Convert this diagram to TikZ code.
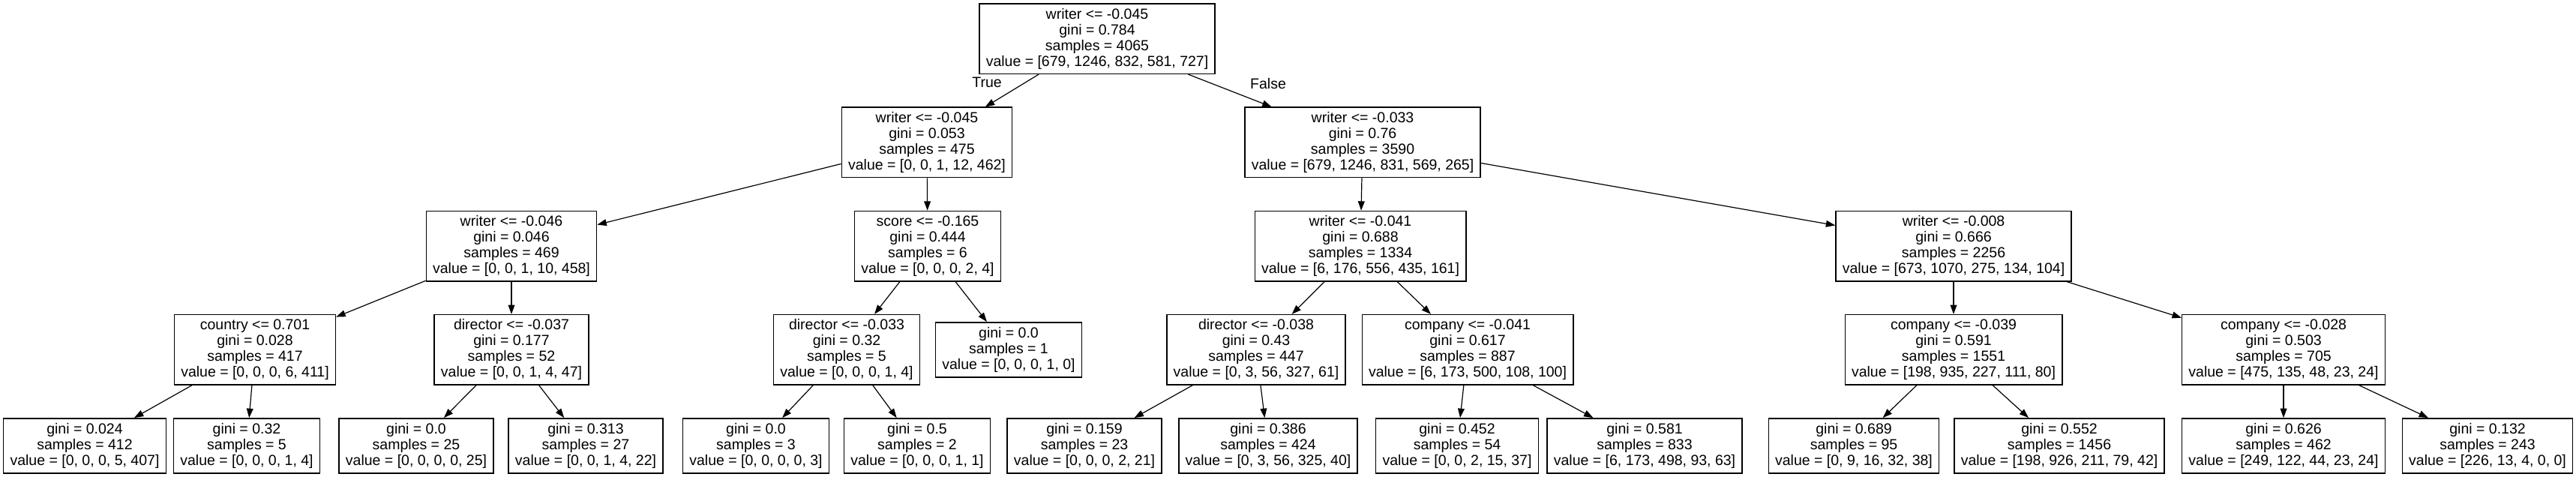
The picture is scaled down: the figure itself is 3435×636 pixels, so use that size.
\documentclass[tikz,border=0pt]{standalone}
\usepackage{fontspec}
\setmainfont{Liberation Sans}
\usetikzlibrary{arrows.meta}

\begin{document}
\begin{tikzpicture}[
  x=0.5pt,y=-0.5pt,line width=0.6pt,
  splitbox/.style={draw,line width=0.7pt,align=center,inner xsep=4.4pt,inner ysep=0pt,
    minimum height=46.7pt,font=\fontsize{9.75pt}{10.45pt}\selectfont},
  leafbox/.style={splitbox,minimum height=36.5pt},
  branch/.style={font=\fontsize{9.75pt}{10.45pt}\selectfont,inner sep=0pt},
  >={Triangle[length=6.2pt,width=4.4pt]}]
\useasboundingbox (0,0) rectangle (3435,636);
% depth 0 and 1
\node[splitbox] (root) at (1463,51.7) {writer <= -0.045\\gini = 0.784\\samples = 4065\\value = [679, 1246, 832, 581, 727]};
\node[splitbox] (wrA) at (1236,189.9) {writer <= -0.045\\gini = 0.053\\samples = 475\\value = [0, 0, 1, 12, 462]};
\node[splitbox] (wrB) at (1817,189.9) {writer <= -0.033\\gini = 0.76\\samples = 3590\\value = [679, 1246, 831, 569, 265]};
% depth 2
\node[splitbox] (wrC) at (682,328.1) {writer <= -0.046\\gini = 0.046\\samples = 469\\value = [0, 0, 1, 10, 458]};
\node[splitbox] (score) at (1237,328.1) {score <= -0.165\\gini = 0.444\\samples = 6\\value = [0, 0, 0, 2, 4]};
\node[splitbox] (wrD) at (1814,328.1) {writer <= -0.041\\gini = 0.688\\samples = 1334\\value = [6, 176, 556, 435, 161]};
\node[splitbox] (wrE) at (2605,328.1) {writer <= -0.008\\gini = 0.666\\samples = 2256\\value = [673, 1070, 275, 134, 104]};
% depth 3
\node[splitbox] (country) at (340,466.3) {country <= 0.701\\gini = 0.028\\samples = 417\\value = [0, 0, 0, 6, 411]};
\node[splitbox] (dirA) at (682,466.3) {director <= -0.037\\gini = 0.177\\samples = 52\\value = [0, 0, 1, 4, 47]};
\node[splitbox] (dirB) at (1129,466.3) {director <= -0.033\\gini = 0.32\\samples = 5\\value = [0, 0, 0, 1, 4]};
\node[leafbox] (pure) at (1345,466.3) {gini = 0.0\\samples = 1\\value = [0, 0, 0, 1, 0]};
\node[splitbox] (dirC) at (1675,466.3) {director <= -0.038\\gini = 0.43\\samples = 447\\value = [0, 3, 56, 327, 61]};
\node[splitbox] (compA) at (1957,466.3) {company <= -0.041\\gini = 0.617\\samples = 887\\value = [6, 173, 500, 108, 100]};
\node[splitbox] (compB) at (2605,466.3) {company <= -0.039\\gini = 0.591\\samples = 1551\\value = [198, 935, 227, 111, 80]};
\node[splitbox] (compC) at (3045,466.3) {company <= -0.028\\gini = 0.503\\samples = 705\\value = [475, 135, 48, 23, 24]};
% depth 4, leaves
\node[leafbox] (lf1) at (113,594.3) {gini = 0.024\\samples = 412\\value = [0, 0, 0, 5, 407]};
\node[leafbox] (lf2) at (329,594.3) {gini = 0.32\\samples = 5\\value = [0, 0, 0, 1, 4]};
\node[leafbox] (lf3) at (555,594.3) {gini = 0.0\\samples = 25\\value = [0, 0, 0, 0, 25]};
\node[leafbox] (lf4) at (781,594.3) {gini = 0.313\\samples = 27\\value = [0, 0, 1, 4, 22]};
\node[leafbox] (lf5) at (1008,594.3) {gini = 0.0\\samples = 3\\value = [0, 0, 0, 0, 3]};
\node[leafbox] (lf6) at (1223,594.3) {gini = 0.5\\samples = 2\\value = [0, 0, 0, 1, 1]};
\node[leafbox] (lf7) at (1446,594.3) {gini = 0.159\\samples = 23\\value = [0, 0, 0, 2, 21]};
\node[leafbox] (lf8) at (1691,594.3) {gini = 0.386\\samples = 424\\value = [0, 3, 56, 325, 40]};
\node[leafbox] (lf9) at (1943,594.3) {gini = 0.452\\samples = 54\\value = [0, 0, 2, 15, 37]};
\node[leafbox] (lf10) at (2193,594.3) {gini = 0.581\\samples = 833\\value = [6, 173, 498, 93, 63]};
\node[leafbox] (lf11) at (2472,594.3) {gini = 0.689\\samples = 95\\value = [0, 9, 16, 32, 38]};
\node[leafbox] (lf12) at (2746,594.3) {gini = 0.552\\samples = 1456\\value = [198, 926, 211, 79, 42]};
\node[leafbox] (lf13) at (3045,594.3) {gini = 0.626\\samples = 462\\value = [249, 122, 44, 23, 24]};
\node[leafbox] (lf14) at (3317,594.3) {gini = 0.132\\samples = 243\\value = [226, 13, 4, 0, 0]};
% branch labels
\node[branch] (truelbl) at (1316,110) {True};
\node[branch] (falselbl) at (1691,112) {False};
% edges
\draw[->] (root) -- (wrA);
\draw[->] (root) -- (wrB);
\draw[->] (wrA) -- (wrC);
\draw[->] (wrA) -- (score);
\draw[->] (wrB) -- (wrD);
\draw[->] (wrB) -- (wrE);
\draw[->] (wrC) -- (country);
\draw[->] (wrC) -- (dirA);
\draw[->] (score) -- (dirB);
\draw[->] (score) -- (pure);
\draw[->] (wrD) -- (dirC);
\draw[->] (wrD) -- (compA);
\draw[->] (wrE) -- (compB);
\draw[->] (wrE) -- (compC);
\draw[->] (country) -- (lf1);
\draw[->] (country) -- (lf2);
\draw[->] (dirA) -- (lf3);
\draw[->] (dirA) -- (lf4);
\draw[->] (dirB) -- (lf5);
\draw[->] (dirB) -- (lf6);
\draw[->] (dirC) -- (lf7);
\draw[->] (dirC) -- (lf8);
\draw[->] (compA) -- (lf9);
\draw[->] (compA) -- (lf10);
\draw[->] (compB) -- (lf11);
\draw[->] (compB) -- (lf12);
\draw[->] (compC) -- (lf13);
\draw[->] (compC) -- (lf14);
\end{tikzpicture}
\end{document}
